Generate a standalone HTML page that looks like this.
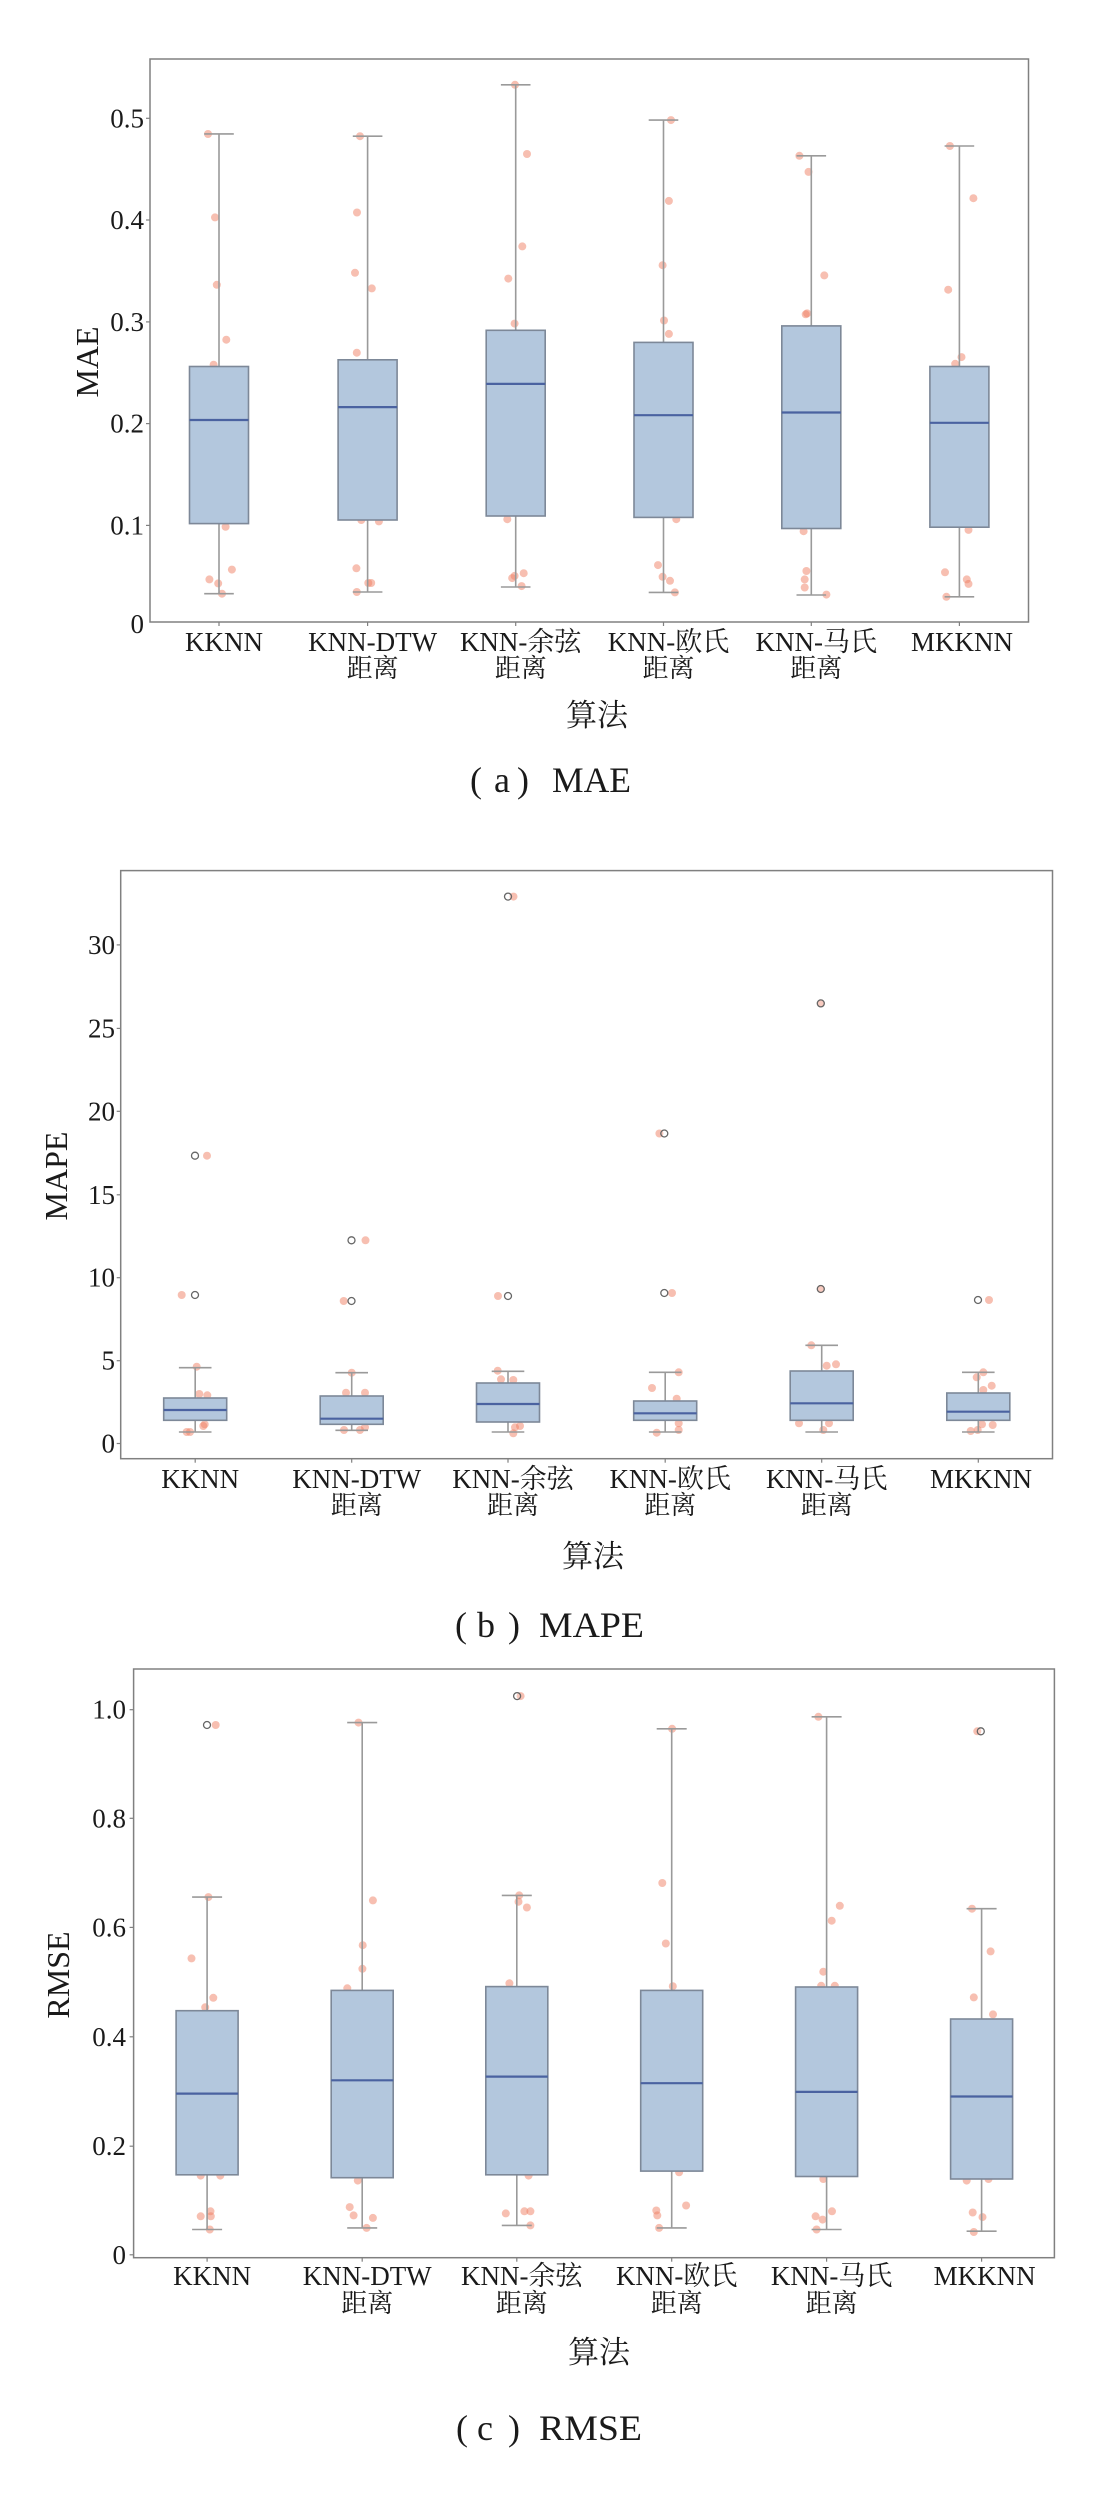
<!DOCTYPE html>
<html>
<head>
<meta charset="utf-8">
<style>
html,body{margin:0;padding:0;background:#fff;}
svg{display:block;}
text{font-family:"Liberation Serif","Noto Serif CJK SC",serif;fill:#1a1a1a;}
.cjk{font-family:"Noto Serif CJK SC","Liberation Serif",serif;}
.sp{fill:none;stroke:#808080;stroke-width:1.5;}
.tk{stroke:#808080;stroke-width:1.2;}
.wh{stroke:#9a9a9a;stroke-width:1.6;}
.bx{fill:#b3c7dd;stroke:#7d8898;stroke-width:1.6;}
.md{stroke:#4a62a0;stroke-width:2.2;}
.dt{fill:#f08064;fill-opacity:0.5;}
.fl{fill:#fff;fill-opacity:0.2;stroke:#666;stroke-width:1.3;}
.yl{font-size:27px;text-anchor:end;}
.xl{font-size:27px;text-anchor:middle;}
.xl2{font-size:26px;text-anchor:middle;}
.al{font-size:32px;text-anchor:middle;}
.cap{font-size:36px;}
</style>
</head>
<body>
<svg width="1100" height="2500" viewBox="0 0 1100 2500" xmlns="http://www.w3.org/2000/svg">
<rect x="0" y="0" width="1100" height="2500" fill="#fff"/>

<!-- ================= PANEL A ================= -->
<g>
<!-- dots -->
<g class="dt">
<circle cx="208" cy="134" r="4"/><circle cx="215" cy="217.4" r="4"/><circle cx="216.8" cy="284.8" r="4"/><circle cx="226.3" cy="339.7" r="4"/><circle cx="213.6" cy="364.7" r="4"/><circle cx="225.6" cy="526.8" r="4"/><circle cx="209.4" cy="579.4" r="4"/><circle cx="218.2" cy="583.4" r="4"/><circle cx="231.9" cy="569.6" r="4"/><circle cx="222" cy="593.7" r="4"/>
<circle cx="360" cy="136.2" r="4"/><circle cx="357" cy="212.5" r="4"/><circle cx="355" cy="272.8" r="4"/><circle cx="371.8" cy="288.4" r="4"/><circle cx="356.8" cy="352.7" r="4"/><circle cx="361.3" cy="520" r="4"/><circle cx="378.9" cy="521.4" r="4"/><circle cx="356.4" cy="568.3" r="4"/><circle cx="368.3" cy="583" r="4"/><circle cx="371.2" cy="583" r="4"/><circle cx="356.8" cy="592" r="4"/>
<circle cx="515" cy="84.8" r="4"/><circle cx="527" cy="154" r="4"/><circle cx="522.3" cy="246.4" r="4"/><circle cx="508.3" cy="278.6" r="4"/><circle cx="514.6" cy="323.6" r="4"/><circle cx="507.3" cy="519.2" r="4"/><circle cx="512.2" cy="578.1" r="4"/><circle cx="514.6" cy="575.9" r="4"/><circle cx="523.7" cy="573.2" r="4"/><circle cx="521.6" cy="586.1" r="4"/>
<circle cx="671" cy="120.1" r="4"/><circle cx="668.9" cy="200.9" r="4"/><circle cx="662.6" cy="265.2" r="4"/><circle cx="664" cy="320.5" r="4"/><circle cx="668.9" cy="333.9" r="4"/><circle cx="676.3" cy="519.2" r="4"/><circle cx="658" cy="565.1" r="4"/><circle cx="662.6" cy="576.8" r="4"/><circle cx="670" cy="580.8" r="4"/><circle cx="674.9" cy="592.4" r="4"/>
<circle cx="799.4" cy="155.8" r="4"/><circle cx="808.5" cy="171.9" r="4"/><circle cx="824.3" cy="275.4" r="4"/><circle cx="805.7" cy="314.3" r="4"/><circle cx="807.1" cy="313.4" r="4"/><circle cx="803.6" cy="531.2" r="4"/><circle cx="806.4" cy="571" r="4"/><circle cx="804.7" cy="579.4" r="4"/><circle cx="804.7" cy="587.5" r="4"/><circle cx="826.4" cy="594.6" r="4"/>
<circle cx="949.9" cy="146" r="4"/><circle cx="973.4" cy="198.2" r="4"/><circle cx="948.2" cy="289.7" r="4"/><circle cx="961.5" cy="357.1" r="4"/><circle cx="955.2" cy="363.8" r="4"/><circle cx="968.5" cy="529.9" r="4"/><circle cx="945" cy="572.3" r="4"/><circle cx="966.8" cy="579.4" r="4"/><circle cx="968.5" cy="583.9" r="4"/><circle cx="946.4" cy="596.8" r="4"/>
</g>
<!-- boxes -->
<!-- KKNN c=219 -->
<line class="wh" x1="219" y1="133.9" x2="219" y2="366.5"/><line class="wh" x1="219" y1="523.6" x2="219" y2="593.7"/>
<line class="wh" x1="204.2" y1="133.9" x2="233.8" y2="133.9"/><line class="wh" x1="204.2" y1="593.7" x2="233.8" y2="593.7"/>
<rect class="bx" x="189.5" y="366.5" width="59" height="157.1"/><line class="md" x1="189.5" y1="420" x2="248.5" y2="420"/>
<!-- DTW c=367.6 -->
<line class="wh" x1="367.6" y1="136.2" x2="367.6" y2="359.8"/><line class="wh" x1="367.6" y1="520" x2="367.6" y2="592"/>
<line class="wh" x1="352.8" y1="136.2" x2="382.4" y2="136.2"/><line class="wh" x1="352.8" y1="592" x2="382.4" y2="592"/>
<rect class="bx" x="338.1" y="359.8" width="59" height="160.2"/><line class="md" x1="338.1" y1="407.1" x2="397.1" y2="407.1"/>
<!-- 余弦 c=515.7 -->
<line class="wh" x1="515.7" y1="84.8" x2="515.7" y2="330.3"/><line class="wh" x1="515.7" y1="516" x2="515.7" y2="587"/>
<line class="wh" x1="500.9" y1="84.8" x2="530.5" y2="84.8"/><line class="wh" x1="500.9" y1="587" x2="530.5" y2="587"/>
<rect class="bx" x="486.2" y="330.3" width="59" height="185.7"/><line class="md" x1="486.2" y1="383.9" x2="545.2" y2="383.9"/>
<!-- 欧氏 c=663.5 -->
<line class="wh" x1="663.5" y1="120.1" x2="663.5" y2="342.4"/><line class="wh" x1="663.5" y1="517.4" x2="663.5" y2="592.4"/>
<line class="wh" x1="648.7" y1="120.1" x2="678.3" y2="120.1"/><line class="wh" x1="648.7" y1="592.4" x2="678.3" y2="592.4"/>
<rect class="bx" x="634" y="342.4" width="59" height="175"/><line class="md" x1="634" y1="415.2" x2="693" y2="415.2"/>
<!-- 马氏 c=811.3 -->
<line class="wh" x1="811.3" y1="155.8" x2="811.3" y2="325.9"/><line class="wh" x1="811.3" y1="528.5" x2="811.3" y2="595"/>
<line class="wh" x1="796.5" y1="155.8" x2="826.1" y2="155.8"/><line class="wh" x1="796.5" y1="595" x2="826.1" y2="595"/>
<rect class="bx" x="781.8" y="325.9" width="59" height="202.6"/><line class="md" x1="781.8" y1="412.5" x2="840.8" y2="412.5"/>
<!-- MKKNN c=959.4 -->
<line class="wh" x1="959.4" y1="146" x2="959.4" y2="366.5"/><line class="wh" x1="959.4" y1="527.2" x2="959.4" y2="596.8"/>
<line class="wh" x1="944.6" y1="146" x2="974.2" y2="146"/><line class="wh" x1="944.6" y1="596.8" x2="974.2" y2="596.8"/>
<rect class="bx" x="929.9" y="366.5" width="59" height="160.7"/><line class="md" x1="929.9" y1="422.8" x2="988.9" y2="422.8"/>

<rect class="sp" x="150" y="59" width="878.5" height="563"/>
<!-- y ticks -->
<g class="tk">
<line x1="146" y1="118.3" x2="150" y2="118.3"/><line x1="146" y1="220" x2="150" y2="220"/><line x1="146" y1="321.9" x2="150" y2="321.9"/><line x1="146" y1="423.6" x2="150" y2="423.6"/><line x1="146" y1="525.4" x2="150" y2="525.4"/>
<line x1="219" y1="622" x2="219" y2="626"/><line x1="367.6" y1="622" x2="367.6" y2="626"/><line x1="515.7" y1="622" x2="515.7" y2="626"/><line x1="663.5" y1="622" x2="663.5" y2="626"/><line x1="811.3" y1="622" x2="811.3" y2="626"/><line x1="959.4" y1="622" x2="959.4" y2="626"/>
</g>
<text class="yl" x="144" y="127.3">0.5</text>
<text class="yl" x="144" y="229">0.4</text>
<text class="yl" x="144" y="330.9">0.3</text>
<text class="yl" x="144" y="432.6">0.2</text>
<text class="yl" x="144" y="534.4">0.1</text>
<text class="yl" x="144" y="633">0</text>
<text class="al" transform="translate(98,362) rotate(-90)">MAE</text>
<!-- x labels -->
<text class="xl" x="224" y="651">KKNN</text>
<text class="xl" x="372.6" y="651">KNN-DTW</text><text class="xl2 cjk" x="372.6" y="677">距离</text>
<text class="xl" x="520.7" y="651">KNN-余弦</text><text class="xl2 cjk" x="520.7" y="677">距离</text>
<text class="xl" x="668.5" y="651">KNN-欧氏</text><text class="xl2 cjk" x="668.5" y="677">距离</text>
<text class="xl" x="816.3" y="651">KNN-马氏</text><text class="xl2 cjk" x="816.3" y="677">距离</text>
<text class="xl" x="962" y="651">MKKNN</text>
<text class="cjk" x="597" y="726" font-size="31" text-anchor="middle">算法</text>
<!-- caption -->
<text class="cap" x="470" y="792">(</text>
<text class="cap" x="494" y="792">a</text>
<text class="cap" x="517" y="792">)</text>
<text class="cap" x="552" y="792" textLength="79" lengthAdjust="spacingAndGlyphs">MAE</text>
</g>

<!-- ================= PANEL B ================= -->
<g>
<g class="dt">
<circle cx="196.7" cy="1366.7" r="4"/><circle cx="199.3" cy="1394" r="4"/><circle cx="207.3" cy="1395.3" r="4"/><circle cx="204.7" cy="1424.3" r="4"/><circle cx="203.3" cy="1426" r="4"/><circle cx="186.7" cy="1432" r="4"/><circle cx="190" cy="1432" r="4"/><circle cx="181.7" cy="1295" r="4"/><circle cx="207" cy="1155.7" r="4"/>
<circle cx="351.7" cy="1372.7" r="4"/><circle cx="346" cy="1392.7" r="4"/><circle cx="365" cy="1392.7" r="4"/><circle cx="344" cy="1430" r="4"/><circle cx="360" cy="1430" r="4"/><circle cx="365" cy="1427.3" r="4"/><circle cx="365.5" cy="1240.3" r="4"/><circle cx="343.7" cy="1301" r="4"/>
<circle cx="497.7" cy="1370.7" r="4"/><circle cx="501" cy="1379.3" r="4"/><circle cx="513.3" cy="1380" r="4"/><circle cx="520" cy="1426" r="4"/><circle cx="515" cy="1427.3" r="4"/><circle cx="513.3" cy="1433.3" r="4"/><circle cx="513.5" cy="896.6" r="4"/><circle cx="498" cy="1296" r="4"/>
<circle cx="678.7" cy="1372.3" r="4"/><circle cx="652" cy="1388" r="4"/><circle cx="676.7" cy="1398.7" r="4"/><circle cx="678.7" cy="1423.3" r="4"/><circle cx="678.7" cy="1430" r="4"/><circle cx="656.7" cy="1432.7" r="4"/><circle cx="659.4" cy="1133.5" r="4"/><circle cx="672" cy="1293" r="4"/>
<circle cx="811.3" cy="1345.3" r="4"/><circle cx="826.7" cy="1365.7" r="4"/><circle cx="836" cy="1364.3" r="4"/><circle cx="799" cy="1423.3" r="4"/><circle cx="829" cy="1423.3" r="4"/><circle cx="823.3" cy="1430" r="4"/><circle cx="820.8" cy="1003.4" r="4"/><circle cx="820.8" cy="1289" r="4"/>
<circle cx="983.3" cy="1372.3" r="4"/><circle cx="976.7" cy="1377.3" r="4"/><circle cx="991.7" cy="1385.7" r="4"/><circle cx="983.3" cy="1390" r="4"/><circle cx="982" cy="1424.3" r="4"/><circle cx="992.7" cy="1425" r="4"/><circle cx="970.7" cy="1431" r="4"/><circle cx="977.7" cy="1430" r="4"/><circle cx="989" cy="1300" r="4"/>
</g>
<!-- KKNN c=195.2 -->
<line class="wh" x1="195.2" y1="1367.7" x2="195.2" y2="1398"/><line class="wh" x1="195.2" y1="1420.3" x2="195.2" y2="1432"/>
<line class="wh" x1="178.9" y1="1367.7" x2="211.5" y2="1367.7"/><line class="wh" x1="178.9" y1="1432" x2="211.5" y2="1432"/>
<rect class="bx" x="163.7" y="1398" width="63" height="22.3"/><line class="md" x1="163.7" y1="1410" x2="226.7" y2="1410"/>
<!-- DTW c=351.7 -->
<line class="wh" x1="351.7" y1="1372.7" x2="351.7" y2="1396"/><line class="wh" x1="351.7" y1="1424.3" x2="351.7" y2="1430.3"/>
<line class="wh" x1="335.4" y1="1372.7" x2="368" y2="1372.7"/><line class="wh" x1="335.4" y1="1430.3" x2="368" y2="1430.3"/>
<rect class="bx" x="320.2" y="1396" width="63" height="28.3"/><line class="md" x1="320.2" y1="1418.7" x2="383.2" y2="1418.7"/>
<!-- 余弦 c=508 -->
<line class="wh" x1="508" y1="1371.3" x2="508" y2="1383"/><line class="wh" x1="508" y1="1422" x2="508" y2="1432"/>
<line class="wh" x1="491.7" y1="1371.3" x2="524.3" y2="1371.3"/><line class="wh" x1="491.7" y1="1432" x2="524.3" y2="1432"/>
<rect class="bx" x="476.5" y="1383" width="63" height="39"/><line class="md" x1="476.5" y1="1404" x2="539.5" y2="1404"/>
<!-- 欧氏 c=665.2 -->
<line class="wh" x1="665.2" y1="1372.3" x2="665.2" y2="1401"/><line class="wh" x1="665.2" y1="1420.3" x2="665.2" y2="1432"/>
<line class="wh" x1="648.9" y1="1372.3" x2="681.5" y2="1372.3"/><line class="wh" x1="648.9" y1="1432" x2="681.5" y2="1432"/>
<rect class="bx" x="633.7" y="1401" width="63" height="19.3"/><line class="md" x1="633.7" y1="1413.3" x2="696.7" y2="1413.3"/>
<!-- 马氏 c=821.7 -->
<line class="wh" x1="821.7" y1="1345.3" x2="821.7" y2="1371"/><line class="wh" x1="821.7" y1="1420.3" x2="821.7" y2="1432"/>
<line class="wh" x1="805.4" y1="1345.3" x2="838" y2="1345.3"/><line class="wh" x1="805.4" y1="1432" x2="838" y2="1432"/>
<rect class="bx" x="790.2" y="1371" width="63" height="49.3"/><line class="md" x1="790.2" y1="1403.3" x2="853.2" y2="1403.3"/>
<!-- MKKNN c=978.3 -->
<line class="wh" x1="978.3" y1="1372.3" x2="978.3" y2="1393"/><line class="wh" x1="978.3" y1="1420.3" x2="978.3" y2="1432"/>
<line class="wh" x1="962" y1="1372.3" x2="994.6" y2="1372.3"/><line class="wh" x1="962" y1="1432" x2="994.6" y2="1432"/>
<rect class="bx" x="946.8" y="1393" width="63" height="27.3"/><line class="md" x1="946.8" y1="1411.7" x2="1009.8" y2="1411.7"/>
<!-- fliers -->
<g class="fl">
<circle cx="195" cy="1155.7" r="3.5"/><circle cx="195" cy="1295" r="3.5"/>
<circle cx="351.5" cy="1240.3" r="3.5"/><circle cx="351.5" cy="1301" r="3.5"/>
<circle cx="508" cy="896.6" r="3.5"/><circle cx="508" cy="1296" r="3.5"/>
<circle cx="664.3" cy="1133.5" r="3.5"/><circle cx="664.3" cy="1293" r="3.5"/>
<circle cx="820.8" cy="1003.4" r="3.5"/><circle cx="820.8" cy="1289" r="3.5"/>
<circle cx="978" cy="1300" r="3.5"/>
</g>

<rect class="sp" x="120.7" y="870.6" width="931.8" height="588.1"/>
<g class="tk">
<line x1="116.7" y1="1443.5" x2="120.7" y2="1443.5"/><line x1="116.7" y1="1360.7" x2="120.7" y2="1360.7"/><line x1="116.7" y1="1277.7" x2="120.7" y2="1277.7"/><line x1="116.7" y1="1194.8" x2="120.7" y2="1194.8"/><line x1="116.7" y1="1111.3" x2="120.7" y2="1111.3"/><line x1="116.7" y1="1028.4" x2="120.7" y2="1028.4"/><line x1="116.7" y1="944.9" x2="120.7" y2="944.9"/>
<line x1="195.2" y1="1458.7" x2="195.2" y2="1462.7"/><line x1="351.7" y1="1458.7" x2="351.7" y2="1462.7"/><line x1="508" y1="1458.7" x2="508" y2="1462.7"/><line x1="665.2" y1="1458.7" x2="665.2" y2="1462.7"/><line x1="821.7" y1="1458.7" x2="821.7" y2="1462.7"/><line x1="978.3" y1="1458.7" x2="978.3" y2="1462.7"/>
</g>
<text class="yl" x="115" y="1452.5">0</text>
<text class="yl" x="115" y="1369.7">5</text>
<text class="yl" x="115" y="1286.7">10</text>
<text class="yl" x="115" y="1203.8">15</text>
<text class="yl" x="115" y="1120.3">20</text>
<text class="yl" x="115" y="1037.4">25</text>
<text class="yl" x="115" y="953.9">30</text>
<text class="al" transform="translate(67,1176) rotate(-90)">MAPE</text>
<text class="xl" x="200.2" y="1488">KKNN</text>
<text class="xl" x="356.7" y="1488">KNN-DTW</text><text class="xl2 cjk" x="356.7" y="1514">距离</text>
<text class="xl" x="513" y="1488">KNN-余弦</text><text class="xl2 cjk" x="513" y="1514">距离</text>
<text class="xl" x="670.2" y="1488">KNN-欧氏</text><text class="xl2 cjk" x="670.2" y="1514">距离</text>
<text class="xl" x="826.7" y="1488">KNN-马氏</text><text class="xl2 cjk" x="826.7" y="1514">距离</text>
<text class="xl" x="981" y="1488">MKKNN</text>
<text class="cjk" x="593" y="1567" font-size="31" text-anchor="middle">算法</text>
<text class="cap" x="455" y="1637">(</text>
<text class="cap" x="477" y="1637">b</text>
<text class="cap" x="508" y="1637">)</text>
<text class="cap" x="539" y="1637" textLength="105" lengthAdjust="spacingAndGlyphs">MAPE</text>
</g>

<!-- ================= PANEL C ================= -->
<g>
<g class="dt">
<circle cx="215.7" cy="1725" r="4"/><circle cx="208.4" cy="1897.1" r="4"/><circle cx="191.5" cy="1958.4" r="4"/><circle cx="213.3" cy="1997.8" r="4"/><circle cx="205.2" cy="2007.3" r="4"/><circle cx="200.7" cy="2175.6" r="4"/><circle cx="220.3" cy="2175.6" r="4"/><circle cx="210.5" cy="2211.3" r="4"/><circle cx="200.7" cy="2216.3" r="4"/><circle cx="210.8" cy="2216.3" r="4"/><circle cx="209.8" cy="2229.5" r="4"/>
<circle cx="358.5" cy="1722.6" r="4"/><circle cx="372.9" cy="1900.4" r="4"/><circle cx="362.7" cy="1945.2" r="4"/><circle cx="362.4" cy="1968.8" r="4"/><circle cx="347.3" cy="1988.3" r="4"/><circle cx="357.8" cy="2180.6" r="4"/><circle cx="349.7" cy="2207.1" r="4"/><circle cx="353.6" cy="2215.4" r="4"/><circle cx="372.9" cy="2217.9" r="4"/><circle cx="366.6" cy="2227.9" r="4"/>
<circle cx="520.6" cy="1696.1" r="4"/><circle cx="519.2" cy="1895.4" r="4"/><circle cx="518.5" cy="1901.7" r="4"/><circle cx="526.9" cy="1907.5" r="4"/><circle cx="509.4" cy="1983.3" r="4"/><circle cx="528.6" cy="2175.6" r="4"/><circle cx="505.8" cy="2213.4" r="4"/><circle cx="524.4" cy="2211.3" r="4"/><circle cx="530.4" cy="2211.3" r="4"/><circle cx="530.4" cy="2225.4" r="4"/>
<circle cx="672.1" cy="1728.8" r="4"/><circle cx="662.3" cy="1883" r="4"/><circle cx="665.8" cy="1943.5" r="4"/><circle cx="672.8" cy="1986.2" r="4"/><circle cx="679.1" cy="2172.3" r="4"/><circle cx="686.1" cy="2205.5" r="4"/><circle cx="656.3" cy="2210.5" r="4"/><circle cx="657.3" cy="2215.4" r="4"/><circle cx="659.1" cy="2227.9" r="4"/>
<circle cx="818.4" cy="1716.8" r="4"/><circle cx="839.8" cy="1905.8" r="4"/><circle cx="831.7" cy="1920.7" r="4"/><circle cx="823.3" cy="1971.7" r="4"/><circle cx="834.8" cy="1985.8" r="4"/><circle cx="821.2" cy="1985.8" r="4"/><circle cx="823.3" cy="2179" r="4"/><circle cx="832" cy="2211.3" r="4"/><circle cx="815.6" cy="2216.3" r="4"/><circle cx="822.6" cy="2219.6" r="4"/><circle cx="816.6" cy="2229.5" r="4"/>
<circle cx="977.3" cy="1731.3" r="4"/><circle cx="972" cy="1908.7" r="4"/><circle cx="990.6" cy="1951.4" r="4"/><circle cx="973.8" cy="1997.4" r="4"/><circle cx="993" cy="2014.4" r="4"/><circle cx="966.7" cy="2180.6" r="4"/><circle cx="988.5" cy="2179" r="4"/><circle cx="972.7" cy="2212.5" r="4"/><circle cx="982.5" cy="2217.1" r="4"/><circle cx="973.8" cy="2232" r="4"/>
</g>
<!-- KKNN c=207.1 -->
<line class="wh" x1="207.1" y1="1897.1" x2="207.1" y2="2010.7"/><line class="wh" x1="207.1" y1="2174.8" x2="207.1" y2="2229.5"/>
<line class="wh" x1="192.1" y1="1897.1" x2="222.1" y2="1897.1"/><line class="wh" x1="192.1" y1="2229.5" x2="222.1" y2="2229.5"/>
<rect class="bx" x="176.1" y="2010.7" width="62" height="164.1"/><line class="md" x1="176.1" y1="2093.6" x2="238.1" y2="2093.6"/>
<!-- DTW c=362.2 -->
<line class="wh" x1="362.2" y1="1722.6" x2="362.2" y2="1990.4"/><line class="wh" x1="362.2" y1="2177.7" x2="362.2" y2="2227.9"/>
<line class="wh" x1="347.2" y1="1722.6" x2="377.2" y2="1722.6"/><line class="wh" x1="347.2" y1="2227.9" x2="377.2" y2="2227.9"/>
<rect class="bx" x="331.2" y="1990.4" width="62" height="187.3"/><line class="md" x1="331.2" y1="2080.3" x2="393.2" y2="2080.3"/>
<!-- 余弦 c=516.8 -->
<line class="wh" x1="516.8" y1="1895.4" x2="516.8" y2="1986.6"/><line class="wh" x1="516.8" y1="2174.8" x2="516.8" y2="2225.4"/>
<line class="wh" x1="501.8" y1="1895.4" x2="531.8" y2="1895.4"/><line class="wh" x1="501.8" y1="2225.4" x2="531.8" y2="2225.4"/>
<rect class="bx" x="485.8" y="1986.6" width="62" height="188.2"/><line class="md" x1="485.8" y1="2076.6" x2="547.8" y2="2076.6"/>
<!-- 欧氏 c=671.7 -->
<line class="wh" x1="671.7" y1="1728.8" x2="671.7" y2="1990.4"/><line class="wh" x1="671.7" y1="2171.1" x2="671.7" y2="2227.9"/>
<line class="wh" x1="656.7" y1="1728.8" x2="686.7" y2="1728.8"/><line class="wh" x1="656.7" y1="2227.9" x2="686.7" y2="2227.9"/>
<rect class="bx" x="640.7" y="1990.4" width="62" height="180.7"/><line class="md" x1="640.7" y1="2083.2" x2="702.7" y2="2083.2"/>
<!-- 马氏 c=826.6 -->
<line class="wh" x1="826.6" y1="1716.8" x2="826.6" y2="1987"/><line class="wh" x1="826.6" y1="2176.5" x2="826.6" y2="2229.5"/>
<line class="wh" x1="811.6" y1="1716.8" x2="841.6" y2="1716.8"/><line class="wh" x1="811.6" y1="2229.5" x2="841.6" y2="2229.5"/>
<rect class="bx" x="795.6" y="1987" width="62" height="189.5"/><line class="md" x1="795.6" y1="2091.9" x2="857.6" y2="2091.9"/>
<!-- MKKNN c=981.6 -->
<line class="wh" x1="981.6" y1="1908.7" x2="981.6" y2="2019"/><line class="wh" x1="981.6" y1="2179" x2="981.6" y2="2231.2"/>
<line class="wh" x1="966.6" y1="1908.7" x2="996.6" y2="1908.7"/><line class="wh" x1="966.6" y1="2231.2" x2="996.6" y2="2231.2"/>
<rect class="bx" x="950.6" y="2019" width="62" height="160"/><line class="md" x1="950.6" y1="2096.5" x2="1012.6" y2="2096.5"/>
<g class="fl">
<circle cx="207" cy="1725" r="3.5"/>
<circle cx="517.1" cy="1696.1" r="3.5"/>
<circle cx="980.8" cy="1731.3" r="3.5"/>
</g>

<rect class="sp" x="133.6" y="1669" width="920.8" height="588.7"/>
<g class="tk">
<line x1="129.6" y1="2254.8" x2="133.6" y2="2254.8"/><line x1="129.6" y1="2146.2" x2="133.6" y2="2146.2"/><line x1="129.6" y1="2036.8" x2="133.6" y2="2036.8"/><line x1="129.6" y1="1927.4" x2="133.6" y2="1927.4"/><line x1="129.6" y1="1818.3" x2="133.6" y2="1818.3"/><line x1="129.6" y1="1709.7" x2="133.6" y2="1709.7"/>
<line x1="207.1" y1="2257.7" x2="207.1" y2="2261.7"/><line x1="362.2" y1="2257.7" x2="362.2" y2="2261.7"/><line x1="516.8" y1="2257.7" x2="516.8" y2="2261.7"/><line x1="671.7" y1="2257.7" x2="671.7" y2="2261.7"/><line x1="826.6" y1="2257.7" x2="826.6" y2="2261.7"/><line x1="981.6" y1="2257.7" x2="981.6" y2="2261.7"/>
</g>
<text class="yl" x="126" y="2263.8">0</text>
<text class="yl" x="126" y="2155.2">0.2</text>
<text class="yl" x="126" y="2045.8">0.4</text>
<text class="yl" x="126" y="1936.4">0.6</text>
<text class="yl" x="126" y="1827.3">0.8</text>
<text class="yl" x="126" y="1718.7">1.0</text>
<text class="al" transform="translate(69,1975) rotate(-90)">RMSE</text>
<text class="xl" x="212.1" y="2285">KKNN</text>
<text class="xl" x="367.2" y="2285">KNN-DTW</text><text class="xl2 cjk" x="367.2" y="2312">距离</text>
<text class="xl" x="521.8" y="2285">KNN-余弦</text><text class="xl2 cjk" x="521.8" y="2312">距离</text>
<text class="xl" x="676.7" y="2285">KNN-欧氏</text><text class="xl2 cjk" x="676.7" y="2312">距离</text>
<text class="xl" x="831.6" y="2285">KNN-马氏</text><text class="xl2 cjk" x="831.6" y="2312">距离</text>
<text class="xl" x="984.6" y="2285">MKKNN</text>
<text class="cjk" x="599" y="2363" font-size="31" text-anchor="middle">算法</text>
<text class="cap" x="456" y="2440">(</text>
<text class="cap" x="477" y="2440">c</text>
<text class="cap" x="508" y="2440">)</text>
<text class="cap" x="539" y="2440" textLength="103" lengthAdjust="spacingAndGlyphs">RMSE</text>
</g>
</svg>
</body>
</html>
